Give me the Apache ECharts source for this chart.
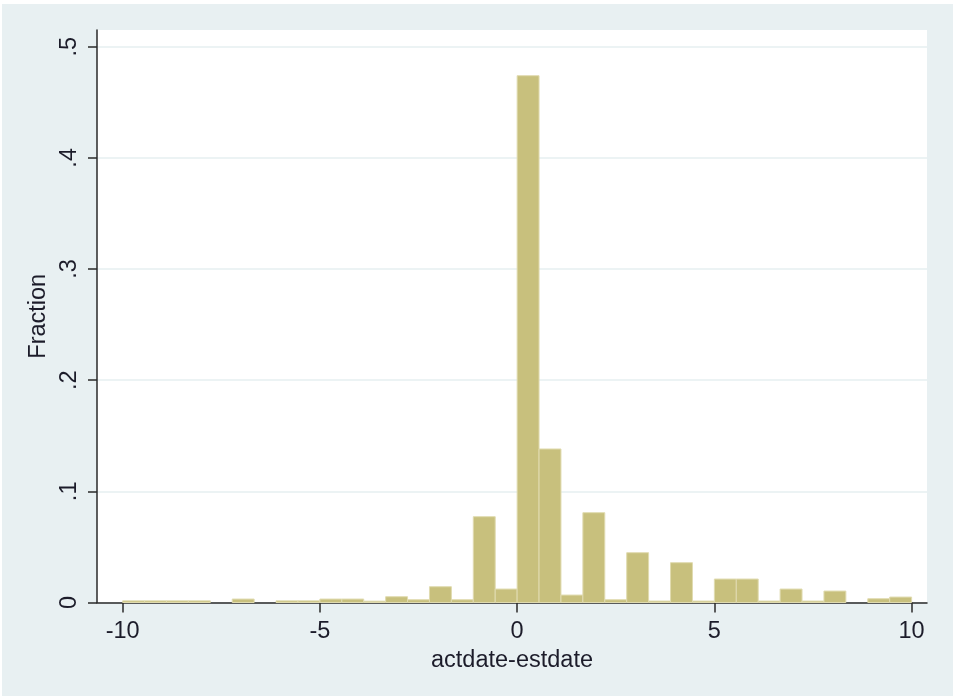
<!DOCTYPE html>
<html>
<head>
<meta charset="utf-8">
<script src="https://cdn.jsdelivr.net/npm/echarts@6/dist/echarts.min.js"></script>
<style>
  html, body { margin: 0; padding: 0; background: #ffffff; }
  #chart { position: absolute; left: 2px; top: 4px; width: 951px; height: 692px; }
</style>
</head>
<body>
<div id="chart"></div>
<script>
// Histogram of actdate-estdate: 36 equal-width bins from -10 to 10
const binStart = -10;
const binWidth = 10 / 18;
const fractions = [
  0.0015, 0.0015, 0.0015, 0.0015, 0.0,    0.0031, 0.0,    0.0015, 0.0015,
  0.0031, 0.0031, 0.0012, 0.0052, 0.0025, 0.0142, 0.0025, 0.0772, 0.0121,
  0.4739, 0.1381, 0.0067, 0.0808, 0.0025, 0.0448, 0.0013, 0.0358, 0.0013,
  0.0211, 0.0211, 0.0013, 0.0121, 0.0013, 0.0103, 0.0,    0.0034, 0.0049
];

const xTickValues = [-10, -5, 0, 5, 10];
const yTickValues = [0, 0.1, 0.2, 0.3, 0.4, 0.5];
const yTickLabels = ['0', '.1', '.2', '.3', '.4', '.5'];

const bins = fractions.map((f, i) => [binStart + i * binWidth, binStart + (i + 1) * binWidth, f]);

const textFont = { fontFamily: '"Liberation Sans", Arial, sans-serif', fontSize: 23.5, color: '#1c1c2a' };

const chart = echarts.init(document.getElementById('chart'), null, { renderer: 'canvas' });
chart.setOption({
  animation: false,
  backgroundColor: '#e8f0f2',
  grid: {
    left: 95, right: 26, top: 26, bottom: 93.5,
    show: true, backgroundColor: '#ffffff', borderWidth: 0
  },
  xAxis: {
    type: 'value',
    min: -10.65, max: 10.39,
    name: 'actdate-estdate',
    nameLocation: 'middle',
    nameGap: 40,
    nameTextStyle: textFont,
    axisLine: { show: true, onZero: false, lineStyle: { color: '#2a2a2a', width: 1.5 } },
    axisTick: { show: true, length: 10, customValues: xTickValues, lineStyle: { color: '#2a2a2a', width: 1.5 } },
    axisLabel: { customValues: xTickValues, margin: 17, ...textFont },
    splitLine: { show: false }
  },
  yAxis: {
    type: 'value',
    min: 0, max: 0.515,
    name: 'Fraction',
    nameLocation: 'middle',
    nameGap: 45,
    nameRotate: 90,
    nameTextStyle: textFont,
    axisLine: { show: true, onZero: false, lineStyle: { color: '#2a2a2a', width: 1.5 } },
    axisTick: { show: true, length: 9, customValues: yTickValues, lineStyle: { color: '#2a2a2a', width: 1.5 } },
    axisLabel: {
      customValues: yTickValues,
      rotate: 90,
      margin: 15,
      formatter: (v) => {
        const k = yTickValues.findIndex(t => Math.abs(t - v) < 1e-9);
        return k >= 0 ? yTickLabels[k] : '';
      },
      ...textFont
    },
    splitLine: { show: true, lineStyle: { color: '#e6eff1', width: 1.5 } }
  },
  series: [{
    type: 'custom',
    data: bins,
    encode: { x: [0, 1], y: 2 },
    renderItem: (params, api) => {
      const h = api.value(2);
      if (!(h > 0)) return null;
      const top = api.coord([api.value(0), h]);
      const base = api.coord([api.value(1), 0]);
      return {
        type: 'rect',
        shape: { x: top[0], y: top[1], width: base[0] - top[0], height: base[1] - top[1] },
        style: { fill: '#c8c07d', stroke: '#e0dbb0', lineWidth: 1 }
      };
    }
  }]
});
</script>
</body>
</html>
